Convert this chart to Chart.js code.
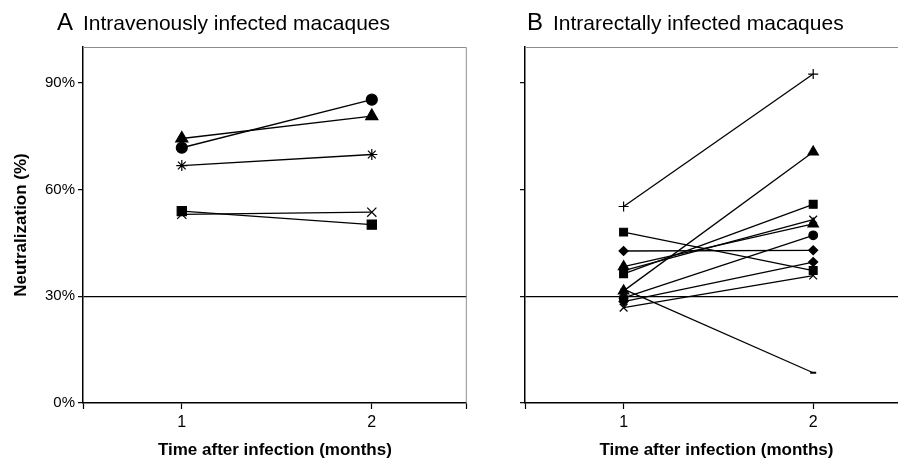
<!DOCTYPE html>
<html>
<head>
<meta charset="utf-8">
<script src="https://cdn.jsdelivr.net/npm/chart.js@4.4.0/dist/chart.umd.min.js"></script>
<style>
  html, body { margin: 0; padding: 0; background: #fff; width: 898px; height: 468px; overflow: hidden; }
  #wrapA { position: absolute; left: 0; top: 0; }
  #wrapB { position: absolute; left: 440px; top: 0; }
</style>
</head>
<body>
<div id="wrapA"><canvas id="chartA" width="475" height="468"></canvas></div>
<div id="wrapB"><canvas id="chartB" width="480" height="468"></canvas></div>
<script>
// months after infection and y tick values
const months = [1, 2];
const yTicks = [0, 30, 60, 90];

// A: intravenously infected macaques (neutralization %, month 1 -> month 2)
const ivCircle   = [71.7, 85.2];
const ivTriangle = [74.3, 80.6];
const ivStar     = [66.7, 69.8];
const ivCross    = [53.0, 53.6];
const ivSquare   = [53.9, 50.1];

// B: intrarectally infected macaques
const irPlus      = [55.2, 92.4];
const irSquareA   = [48.0, 37.2];
const irDiamondA  = [42.7, 42.9];
const irSquareB   = [36.3, 55.8];
const irCrossA    = [37.2, 51.5];
const irTriangleA = [38.3, 50.3];
const irTriangleB = [31.5, 70.5];
const irDash      = [32.0, 8.5];
const irCircle    = [29.5, 47.1];
const irDiamondB  = [28.5, 39.6];
const irCrossB    = [26.8, 35.8];

const FONT = '"Liberation Sans", Arial, sans-serif';
const xMin = 0.48, xMax = 2.5;

function series(values, style, r) {
  return {
    data: months.map((m, i) => ({ x: m, y: values[i] })),
    borderColor: '#000',
    borderWidth: 1.3,
    backgroundColor: '#000',
    pointStyle: style,
    pointRadius: r,
    pointBorderWidth: style === 'line' ? 2 : 1.2,
    pointBackgroundColor: '#000',
    pointBorderColor: '#000',
    tension: 0,
    fill: false
  };
}

// grey box on top and right of the plot
const frame = {
  id: 'frame',
  beforeDatasetsDraw(chart) {
    const { ctx, chartArea: { left, right, top, bottom } } = chart;
    ctx.save();
    ctx.strokeStyle = '#8c8c8c';
    ctx.lineWidth = 1;
    ctx.beginPath();
    ctx.moveTo(left, top + 0.5);
    ctx.lineTo(right - 0.5, top + 0.5);
    ctx.lineTo(right - 0.5, bottom);
    ctx.stroke();
    ctx.restore();
  }
};

const panelTitle = {
  id: 'panelTitle',
  afterDraw(chart, args, opts) {
    const ctx = chart.ctx;
    ctx.save();
    ctx.fillStyle = '#000';
    ctx.textBaseline = 'alphabetic';
    ctx.font = '24px ' + FONT;
    ctx.fillText(opts.letter, opts.letterX, 30);
    ctx.font = '21px ' + FONT;
    ctx.fillText(opts.text, opts.textX, 30);
    ctx.restore();
  }
};

function options(showY, yWidth, padRight, title) {
  return {
    responsive: false,
    animation: false,
    layout: { padding: { top: 47, right: padRight, bottom: 0, left: 0 } },
    scales: {
      x: {
        type: 'linear',
        min: xMin,
        max: xMax,
        afterBuildTicks: s => { s.ticks = [xMin, ...months, xMax].map(v => ({ value: v })); },
        afterFit: s => { s.height = 65; },
        border: { color: '#000', width: 1.5 },
        grid: { drawOnChartArea: false, tickColor: '#000', tickLength: 6, tickWidth: 1.2 },
        ticks: {
          autoSkip: false, maxRotation: 0, padding: 4, color: '#000',
          font: { family: FONT, size: 16 },
          callback: v => months.includes(v) ? String(v) : ''
        },
        title: {
          display: true, text: 'Time after infection (months)', color: '#000',
          font: { family: FONT, size: 17, weight: 'bold' }, padding: { top: 2, bottom: 7 }
        }
      },
      y: {
        min: 0,
        max: 100,
        afterBuildTicks: s => { s.ticks = yTicks.map(v => ({ value: v })); },
        afterFit: s => { s.width = yWidth; },
        border: { color: '#000', width: 1.5 },
        grid: {
          color: c => (c.tick && c.tick.value === 30) ? '#000' : 'rgba(0,0,0,0)',
          lineWidth: 1.3, tickColor: '#000', tickLength: 5, tickWidth: 1.2
        },
        ticks: {
          padding: 3, color: '#000',
          font: { family: FONT, size: 15 },
          callback: v => showY ? v + '%' : ''
        },
        title: {
          display: showY, text: 'Neutralization (%)', color: '#000',
          font: { family: FONT, size: 17, weight: 'bold' }, padding: { top: 11, bottom: 0 }
        }
      }
    },
    plugins: {
      legend: { display: false },
      tooltip: { enabled: false },
      panelTitle: title
    }
  };
}

new Chart(document.getElementById('chartA'), {
  type: 'line',
  data: {
    datasets: [
      series(ivSquare, 'rect', 6.5),
      series(ivCross, 'crossRot', 6.5),
      series(ivStar, 'star', 5.5),
      series(ivTriangle, 'triangle', 7),
      series(ivCircle, 'circle', 5.5)
    ]
  },
  options: options(true, 83, 8, { letter: 'A', letterX: 57, text: 'Intravenously infected macaques', textX: 83 }),
  plugins: [frame, panelTitle]
});

new Chart(document.getElementById('chartB'), {
  type: 'line',
  data: {
    datasets: [
      series(irDash, 'line', 3),
      series(irCrossB, 'crossRot', 5.5),
      series(irDiamondB, 'rectRot', 4.5),
      series(irCircle, 'circle', 4.3),
      series(irTriangleB, 'triangle', 6),
      series(irTriangleA, 'triangle', 6),
      series(irCrossA, 'crossRot', 5.5),
      series(irSquareB, 'rect', 5.5),
      series(irDiamondA, 'rectRot', 4.5),
      series(irSquareA, 'rect', 5.5),
      series(irPlus, 'cross', 5)
    ]
  },
  options: options(false, 85, 12, { letter: 'B', letterX: 87, text: 'Intrarectally infected macaques', textX: 113 }),
  plugins: [frame, panelTitle]
});
</script>
</body>
</html>
